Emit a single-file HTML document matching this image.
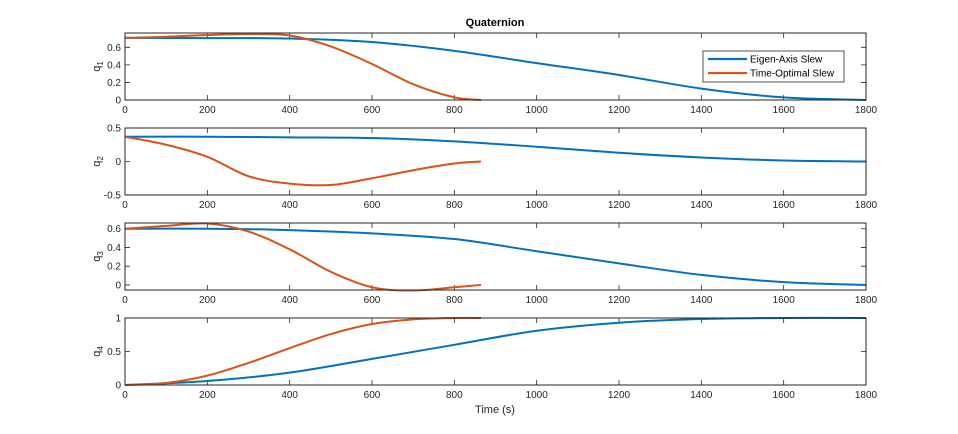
<!DOCTYPE html>
<html><head><meta charset="utf-8"><style>
html,body{margin:0;padding:0;background:#fff;}
svg{display:block;font-family:"Liberation Sans",Arial,sans-serif;}
</style></head><body>
<svg id="chart" width="958" height="434" viewBox="0 0 958 434" xmlns="http://www.w3.org/2000/svg">
<rect x="0" y="0" width="958" height="434" fill="#fff"/>
<text x="495" y="26" text-anchor="middle" font-size="11" font-weight="bold" fill="#000">Quaternion</text>
<text x="495" y="413" text-anchor="middle" font-size="11" fill="#262626">Time (s)</text>
</svg>
<script>
const xTicks = [0,200,400,600,800,1000,1200,1400,1600,1800];
const eigenTimes = [0,200,400,600,800,1000,1200,1400,1600,1800];
const optTimes = [0,100,200,300,400,500,600,700,800,865];
const eigenQ1 = [0.707,0.705,0.70,0.66,0.56,0.42,0.285,0.13,0.03,0.0];
const optQ1 = [0.707,0.72,0.74,0.752,0.735,0.61,0.41,0.18,0.03,0.0];
const eigenQ2 = [0.37,0.37,0.36,0.35,0.30,0.22,0.13,0.06,0.015,0.0];
const optQ2 = [0.37,0.25,0.07,-0.22,-0.33,-0.35,-0.25,-0.13,-0.03,0.0];
const eigenQ3 = [0.6,0.6,0.585,0.55,0.49,0.36,0.23,0.107,0.03,0.0];
const optQ3 = [0.6,0.63,0.655,0.57,0.38,0.14,-0.025,-0.06,-0.025,0.0];
const eigenQ4 = [0.0,0.06,0.185,0.39,0.6,0.81,0.93,0.985,1.0,1.0];
const optQ4 = [0.0,0.03,0.14,0.33,0.55,0.76,0.91,0.98,1.0,1.0];
const yTicks1 = [0,0.2,0.4,0.6], yLabels1 = ["0","0.2","0.4","0.6"];
const yTicks2 = [-0.5,0,0.5], yLabels2 = ["-0.5","0","0.5"];
const yTicks3 = [0,0.2,0.4,0.6], yLabels3 = ["0","0.2","0.4","0.6"];
const yTicks4 = [0,0.5,1], yLabels4 = ["0","0.5","1"];
const seriesNames = ["Eigen-Axis Slew","Time-Optimal Slew"];

const NS="http://www.w3.org/2000/svg";
const svg=document.getElementById('chart');
const X0=125,X1=866,XMAX=1800;
const xs=v=>X0+(v/XMAX)*(X1-X0);
const BLUE="#0072BD",ORANGE="#D95319";
function mk(tag,attrs,parent){const e=document.createElementNS(NS,tag);for(const k in attrs)e.setAttribute(k,attrs[k]);(parent||svg).appendChild(e);return e;}
function spline(pts){let d=`M${pts[0][0].toFixed(2)},${pts[0][1].toFixed(2)}`;
 for(let i=0;i<pts.length-1;i++){const p0=pts[Math.max(0,i-1)],p1=pts[i],p2=pts[i+1],p3=pts[Math.min(pts.length-1,i+2)];
 const c1=[p1[0]+(p2[0]-p0[0])/6,p1[1]+(p2[1]-p0[1])/6],c2=[p2[0]-(p3[0]-p1[0])/6,p2[1]-(p3[1]-p1[1])/6];
 d+=` C${c1[0].toFixed(2)},${c1[1].toFixed(2)} ${c2[0].toFixed(2)},${c2[1].toFixed(2)} ${p2[0].toFixed(2)},${p2[1].toFixed(2)}`;}return d;}
const panels=[
 {top:33,bot:100,ymin:0,ymax:0.763,ticks:yTicks1,labels:yLabels1,eig:eigenQ1,opt:optQ1,n:"1"},
 {top:128,bot:195,ymin:-0.5,ymax:0.5,ticks:yTicks2,labels:yLabels2,eig:eigenQ2,opt:optQ2,n:"2"},
 {top:223,bot:290,ymin:-0.054,ymax:0.661,ticks:yTicks3,labels:yLabels3,eig:eigenQ3,opt:optQ3,n:"3"},
 {top:318,bot:385,ymin:0,ymax:1,ticks:yTicks4,labels:yLabels4,eig:eigenQ4,opt:optQ4,n:"4"}];
panels.forEach((p,pi)=>{
 const ys=v=>p.bot-(v-p.ymin)/(p.ymax-p.ymin)*(p.bot-p.top);
 const g=mk('g',{});
 
 
 const clipId='clip'+pi;
 const cp=mk('clipPath',{id:clipId},g);mk('rect',{x:X0-2,y:p.top-3,width:X1-X0+4,height:p.bot-p.top+6},cp);
 xTicks.forEach(t=>{const x=xs(t);
  const tk=mk('path',{d:`M${x},${p.bot}v-5M${x},${p.top}v5`,stroke:'#262626','stroke-width':0.8,fill:'none'},g);
  
  
  const tl=mk('text',{x:x,y:p.bot+13,'text-anchor':'middle','font-size':10,fill:'#262626'},g);tl.textContent=t;
  
  });
 p.ticks.forEach((t,i)=>{const y=ys(t);
  const tk=mk('path',{d:`M${X0},${y}h5M${X1},${y}h-5`,stroke:'#262626','stroke-width':0.8,fill:'none'},g);
  
  
  const tl=mk('text',{x:X0-4,y:y+3.5,'text-anchor':'end','font-size':10,fill:'#262626'},g);tl.textContent=p.labels[i];
  
  });
 const yl=mk('text',{transform:`translate(100,${(p.top+p.bot)/2}) rotate(-90)`,'text-anchor':'middle','font-size':11,fill:'#262626'},g);
 
 
 yl.innerHTML=`q<tspan font-size="8" dy="3">${p.n}</tspan>`;
 const eb=mk('path',{d:spline(eigenTimes.map((t,i)=>[xs(t),ys(p.eig[i])])),stroke:BLUE,'stroke-width':2,fill:'none','clip-path':`url(#${clipId})`},g);
 
 
 const ob=mk('path',{d:spline(optTimes.map((t,i)=>[xs(t),ys(p.opt[i])])),stroke:ORANGE,'stroke-width':2,fill:'none','clip-path':`url(#${clipId})`},g);
 
 
 const box=mk('rect',{x:X0,y:p.top,width:X1-X0,height:p.bot-p.top,fill:'none',stroke:'#262626','stroke-width':1},g);
 
 
});
const lg=mk('g',{});


mk('rect',{x:703,y:51,width:141,height:31,fill:'#fff',stroke:'#262626','stroke-width':0.8},lg);
[BLUE,ORANGE].forEach((c,i)=>{const y=59+i*14;
 const ln=mk('line',{x1:708,x2:747,y1:y,y2:y,stroke:c,'stroke-width':2.2},lg);
 
 
 const t=mk('text',{x:750,y:y+3.5,'font-size':10,fill:'#000'},lg);t.textContent=seriesNames[i];
 
 });
</script>
</body></html>
